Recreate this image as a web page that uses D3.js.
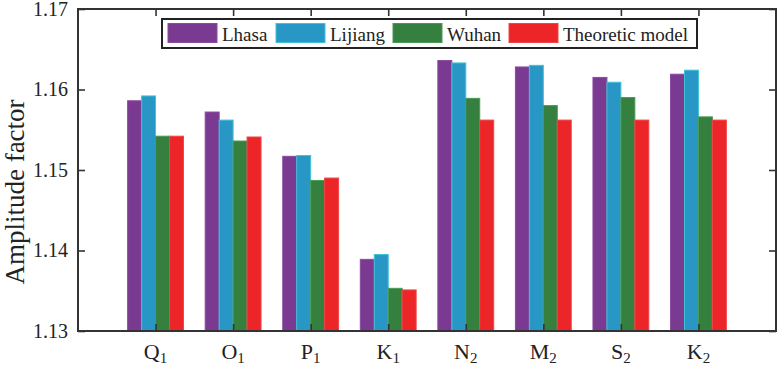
<!DOCTYPE html>
<html>
<head>
<meta charset="utf-8">
<script src="https://cdn.jsdelivr.net/npm/d3@7"></script>
<style>
  body { margin: 0; background: #fff; }
  svg text { font-family: "Liberation Serif", "Times New Roman", serif !important; fill: #222; }
</style>
</head>
<body>
<div id="chart"></div>
<script>
// tidal waves and amplitude factors per station
const waves = ["Q", "O", "P", "K", "N", "M", "S", "K"];
const waveSub = ["1", "1", "1", "1", "2", "2", "2", "2"];
const seriesNames = ["Lhasa", "Lijiang", "Wuhan", "Theoretic model"];
const lhasa = [1.1586, 1.1572, 1.1517, 1.1389, 1.1636, 1.1628, 1.1615, 1.1619];
const lijiang = [1.1592, 1.1562, 1.1518, 1.1395, 1.1633, 1.1630, 1.1609, 1.1624];
const wuhan = [1.1542, 1.1536, 1.1487, 1.1353, 1.1589, 1.1580, 1.1590, 1.1566];
const theory = [1.1542, 1.1541, 1.1490, 1.1351, 1.1562, 1.1562, 1.1562, 1.1562];
const yTicks = [1.13, 1.14, 1.15, 1.16, 1.17];

const colors = ["#7b3a91", "#2997c6", "#36803f", "#ec2528"];
const edges = ["#8a4aa0", "#3fc3d6", "#4a9a55", "#f04545"];
const series = [lhasa, lijiang, wuhan, theory];

const W = 778, H = 367;
const pl = 78, pr = 776, pt = 9, pb = 331;
const serif = "'Liberation Serif', 'Times New Roman', serif";

const svg = d3.select("#chart").append("svg")
  .attr("width", W).attr("height", H)
  .attr("font-family", serif);

const x = d3.scaleLinear().domain([0, waves.length + 1]).range([pl, pr]);
const y = d3.scaleLinear().domain([1.13, 1.17]).range([pb, pt]);
const bw = x(0.18) - x(0);

// bars
series.forEach((vals, s) => {
  svg.append("g").selectAll("rect")
    .data(vals)
    .enter()
    .append("rect")
    .attr("x", (d, i) => x(i + 1) + (s - 2) * bw)
    .attr("y", d => y(d))
    .attr("width", bw)
    .attr("height", d => y(1.13) - y(d))
    .attr("fill", colors[s])
    .attr("stroke", edges[s])
    .attr("stroke-width", 1);
});

// axes with inward ticks, MATLAB style box
const cats = d3.range(1, waves.length + 1);
const axisColor = "#333";
const tl = 7;

svg.append("g")
  .attr("transform", `translate(${pl},0)`)
  .call(d3.axisLeft(y).tickValues(yTicks).tickSize(-tl).tickPadding(tl + 3).tickFormat(d3.format(".2f")))
  .call(g => g.attr("font-family", serif))
  .call(g => g.selectAll("text").style("font-size", "20px").style("fill", "#222"));

svg.append("g")
  .attr("transform", `translate(${pr},0)`)
  .call(d3.axisRight(y).tickValues(yTicks).tickSize(-tl).tickFormat(""));

svg.append("g")
  .attr("transform", `translate(0,${pb})`)
  .call(d3.axisBottom(x).tickValues(cats).tickSize(-tl).tickFormat(""));

svg.append("g")
  .attr("transform", `translate(0,${pt})`)
  .call(d3.axisTop(x).tickValues(cats).tickSize(-tl).tickFormat(""));

svg.selectAll(".domain").remove();
svg.selectAll(".tick line").attr("stroke", axisColor).attr("stroke-width", 1.6);

svg.append("rect")
  .attr("x", pl).attr("y", pt)
  .attr("width", pr - pl).attr("height", pb - pt)
  .attr("fill", "none").attr("stroke", axisColor).attr("stroke-width", 2);

// category labels with subscripts
const xl = svg.append("g").selectAll("text")
  .data(waves)
  .enter()
  .append("text")
  .attr("x", (d, i) => x(i + 1))
  .attr("y", 359)
  .attr("text-anchor", "middle")
  .style("font-size", "22px");
xl.append("tspan").text(d => d);
xl.append("tspan")
  .attr("dy", 4)
  .style("font-size", "15px")
  .text((d, i) => waveSub[i]);

// y label
svg.append("text")
  .attr("transform", `translate(24,${(pt + pb) / 2 + 22}) rotate(-90)`)
  .attr("text-anchor", "middle")
  .style("font-size", "27px")
  .text("Amplitude factor");

// legend
const lg = svg.append("g");
lg.append("rect")
  .attr("x", 162).attr("y", 19)
  .attr("width", 535).attr("height", 29)
  .attr("fill", "#fff").attr("stroke", "#222").attr("stroke-width", 2);

const lx = [168, 276, 393, 509];
seriesNames.forEach((name, s) => {
  lg.append("rect")
    .attr("x", lx[s]).attr("y", 23.5)
    .attr("width", 49).attr("height", 19)
    .attr("fill", colors[s]).attr("stroke", edges[s]);
  lg.append("text")
    .attr("x", lx[s] + 54).attr("y", 40.5)
    .style("font-size", "19px")
    .text(name);
});
</script>
</body>
</html>
